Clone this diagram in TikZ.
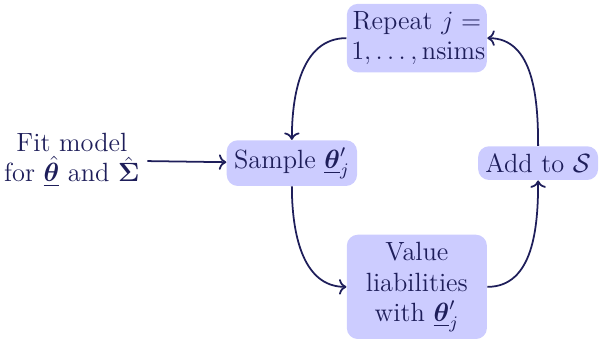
\documentclass[tikz,border=0pt]{standalone}
\usepackage{amsmath}
\usepackage{amssymb}
\usepackage{bm}
\usepackage{tikz}
\usetikzlibrary{arrows.meta}
\usepackage{color}

\definecolor{navy}{RGB}{30,30,90}
\definecolor{boxfill}{RGB}{204,204,255}

\tikzset{
	stepbox/.style={fill=boxfill,rounded corners=5pt,text=navy,align=center,font=\large},
	widebox/.style={stepbox,text width=2.1cm,inner xsep=2pt},
	flow/.style={->,thick,draw=navy}
}

\begin{document}
\begin{tikzpicture}
	\useasboundingbox (0,0) rectangle (9.696,-5.424);
	\node[text=navy,align=center,font=\large] (fit) at (1.15,-2.56) {Fit model\\for $\underline{\hat{\bm\theta}}$ and $\hat{\bm\Sigma}$};
	\node[stepbox] (sample) at (4.67,-2.61) {Sample $\underline{\bm\theta}'_j$};
	\node[widebox] (repeat) at (6.67,-0.61) {Repeat $j=$\\$1,\ldots,\mathrm{nsims}$};
	\node[widebox] (value) at (6.67,-4.59) {Value\\liabilities\\with $\underline{\bm\theta}'_j$};
	\node[stepbox] (add) at (8.61,-2.61) {Add to $\mathcal{S}$};
	% connectors
	\draw[flow] (fit) -- (sample);
	\draw[flow] (repeat.west) to[out=180,in=90] (sample.north);
	\draw[flow] (sample.south) to[out=-90,in=180] (value.west);
	\draw[flow] (value.east) to[out=0,in=-90] (add.south);
	\draw[flow] (add.north) to[out=90,in=0] (repeat.east);
\end{tikzpicture}
\end{document}
